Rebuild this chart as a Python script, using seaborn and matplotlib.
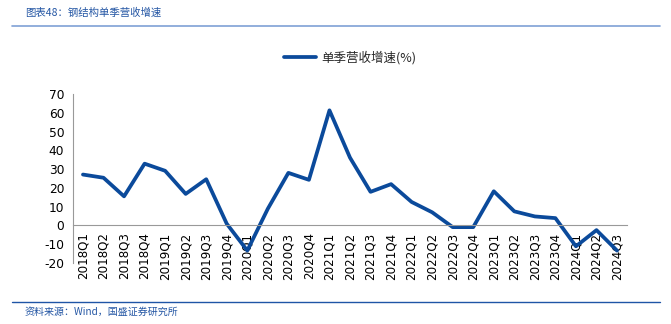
import matplotlib
matplotlib.use("Agg")
import matplotlib.pyplot as plt
import seaborn as sns
import pandas as pd
from matplotlib.lines import Line2D

quarters = ["2018Q1", "2018Q2", "2018Q3", "2018Q4", "2019Q1", "2019Q2", "2019Q3", "2019Q4",
            "2020Q1", "2020Q2", "2020Q3", "2020Q4", "2021Q1", "2021Q2", "2021Q3", "2021Q4",
            "2022Q1", "2022Q2", "2022Q3", "2022Q4", "2023Q1", "2023Q2", "2023Q3", "2023Q4",
            "2024Q1", "2024Q2", "2024Q3"]
growth = [27.1, 25.4, 15.5, 32.9, 29.1, 16.8, 24.6, 0.9,
          -13.4, 8.9, 28.0, 24.3, 61.3, 36.1, 17.9, 22.0,
          12.5, 7.0, -0.9, -0.9, 18.2, 7.5, 4.8, 3.9,
          -11.1, -2.5, -13.4]
yticks = [-20, -10, 0, 10, 20, 30, 40, 50, 60, 70]
series_name = "单季营收增速(%)"
title = "图表48：钢结构单季营收增速"
source = "资料来源：Wind，国盛证券研究所"

sns.set_theme(style="white")
plt.rcParams['font.family'] = ['DejaVu Sans', 'Noto Sans CJK SC']

df = pd.DataFrame({"pos": range(len(quarters)), "quarter": quarters, "value": growth})
W, H = 671, 324
fig = plt.figure(figsize=(W / 100, H / 100), dpi=100)
ax = fig.add_axes([72.7 / W, 1 - 263 / H, (627.3 - 72.7) / W, (263 - 94) / H])

line_color = "#0B4A9B"
sns.lineplot(data=df, x="pos", y="value", sort=False, ax=ax, color=line_color,
             linewidth=2.7, legend=False)

ax.set_xlim(-0.5, len(quarters) - 0.5)
ax.set_ylim(-20, 70)
ax.set_yticks(yticks)
ax.set_yticklabels([str(v) for v in yticks])
ax.set_xticks(range(len(quarters)))
ax.set_xticklabels(quarters)
ax.set_xticks([i - 0.5 for i in range(len(quarters) + 1)], minor=True)
ax.tick_params(axis="x", which="major", length=0, pad=5, labelrotation=90,
               labelsize=8.6, labelcolor="black")
ax.tick_params(axis="x", which="minor", length=4, direction="in", color="#999999", width=0.8)
ax.tick_params(axis="y", which="major", length=4, direction="out", color="#999999", width=0.8,
               pad=2, labelsize=8.8, labelcolor="black")
ax.set_xlabel("")
ax.set_ylabel("")
for s in ["top", "right"]:
    ax.spines[s].set_visible(False)
ax.spines["bottom"].set_position(("data", 0))
ax.spines["bottom"].set_color("#999999")
ax.spines["left"].set_color("#999999")
ax.spines["bottom"].set_linewidth(0.8)
ax.spines["left"].set_linewidth(0.8)
ax.grid(False)

handle = Line2D([0], [0], color=line_color, linewidth=2.7)
fig.legend([handle], [series_name], loc="center", bbox_to_anchor=(350 / W, 1 - 58 / H),
           frameon=False, prop={"family": ["Noto Sans CJK SC", "DejaVu Sans"], "size": 9},
           handlelength=2.6, handletextpad=0.4)

cjk = ["Noto Sans CJK SC", "DejaVu Sans"]
fig.text(25 / W, 1 - 13 / H, title, ha="left", va="center", fontsize=7.5, color="#2456A4",
         family=cjk, style="italic")
fig.add_artist(Line2D([12 / W, 660 / W], [1 - 25.5 / H, 1 - 25.5 / H], color="#7FA1D6", linewidth=1.2))
fig.add_artist(Line2D([12 / W, 660 / W], [1 - 302 / H, 1 - 302 / H], color="#1F55A6", linewidth=1.0))
fig.text(25 / W, 1 - 312 / H, source, ha="left", va="center", fontsize=7.2, color="#2456A4",
         family=cjk, style="italic")

fig.savefig("out.png", dpi=100)
